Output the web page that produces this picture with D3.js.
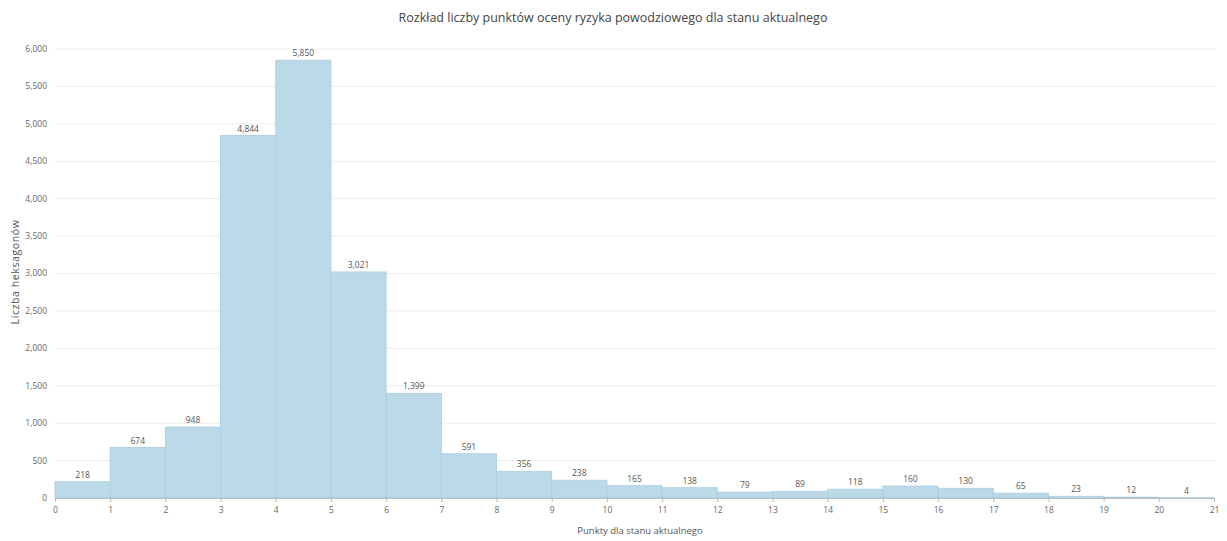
<!DOCTYPE html>
<html><head><meta charset="utf-8">
<script src="https://cdn.jsdelivr.net/npm/d3@7"></script>
<style>body{margin:0;background:#fff;}svg{display:block;font-family:"Open Sans",sans-serif;}</style>
</head><body>
<svg id="c" width="1227" height="541"></svg>
<script>
const binStarts = d3.range(0, 21);
const counts = [218, 674, 948, 4844, 5850, 3021, 1399, 591, 356, 238, 165, 138, 79, 89, 118, 160, 130, 65, 23, 12, 4];
const yTicks = [0, 500, 1000, 1500, 2000, 2500, 3000, 3500, 4000, 4500, 5000, 5500, 6000];
const xTicks = d3.range(0, 22);
const title = "Rozkład liczby punktów oceny ryzyka powodziowego dla stanu aktualnego";
const xTitle = "Punkty dla stanu aktualnego";
const yTitle = "Liczba heksagonów";

(function () {
const svg = d3.select("#c");
const mLeft = 55, mRight = 1214, mTop = 49, mBottom = 498;
const x = d3.scaleLinear().domain([0, 21]).range([mLeft, mRight]);
const y = d3.scaleLinear().domain([0, 6000]).range([mBottom, mTop]);
const fmt = d3.format(",");

// grid
svg.append("g").selectAll("line").data(yTicks.filter(d => d > 0)).join("line")
  .attr("x1", mLeft).attr("x2", mRight + 2)
  .attr("y1", d => y(d)).attr("y2", d => y(d))
  .attr("stroke", "#ececec").attr("stroke-width", 1);

// y tick labels
svg.append("g").selectAll("text").data(yTicks).join("text")
  .attr("x", 47).attr("y", d => y(d)).attr("dy", "0.35em")
  .attr("text-anchor", "end").attr("font-size", 8.5).attr("fill", "#666")
  .text(d => fmt(d));

// bars
svg.append("g").selectAll("rect").data(counts).join("rect")
  .attr("x", (d, i) => x(binStarts[i]))
  .attr("width", (d, i) => x(binStarts[i] + 1) - x(binStarts[i]))
  .attr("y", d => y(d))
  .attr("height", d => mBottom - y(d))
  .attr("fill", "#bcd9e8").attr("stroke", "#a8cde0").attr("stroke-width", 0.8);

// bar labels
svg.append("g").selectAll("text").data(counts).join("text")
  .attr("x", (d, i) => x(binStarts[i] + 0.5))
  .attr("y", d => y(d) - 4)
  .attr("text-anchor", "middle").attr("font-size", 8.5).attr("fill", "#555")
  .text(d => fmt(d));

// x axis
const xAxis = d3.axisBottom(x).tickValues(xTicks).tickSize(4).tickSizeOuter(0).tickFormat(d3.format("d"));
const gx = svg.append("g").attr("transform", `translate(0,${mBottom})`).call(xAxis);
gx.select(".domain").attr("stroke", "#bbb");
gx.selectAll(".tick line").attr("stroke", "#bbb");
gx.selectAll(".tick text").attr("font-size", 8.5).attr("fill", "#666").attr("font-family", "Open Sans, sans-serif").attr("dy", "0.9em");

// titles
svg.append("text").attr("x", 613).attr("y", 22).attr("text-anchor", "middle")
  .attr("font-size", 12.5).attr("fill", "#444").text(title);
svg.append("text").attr("x", 640).attr("y", 534).attr("text-anchor", "middle")
  .attr("font-size", 9.5).attr("fill", "#555").text(xTitle);
svg.append("text").attr("transform", "translate(19,272) rotate(-90)").attr("text-anchor", "middle")
  .attr("font-size", 10.5).attr("letter-spacing", 0.6).attr("fill", "#555").text(yTitle);
})();
</script>
</body></html>
